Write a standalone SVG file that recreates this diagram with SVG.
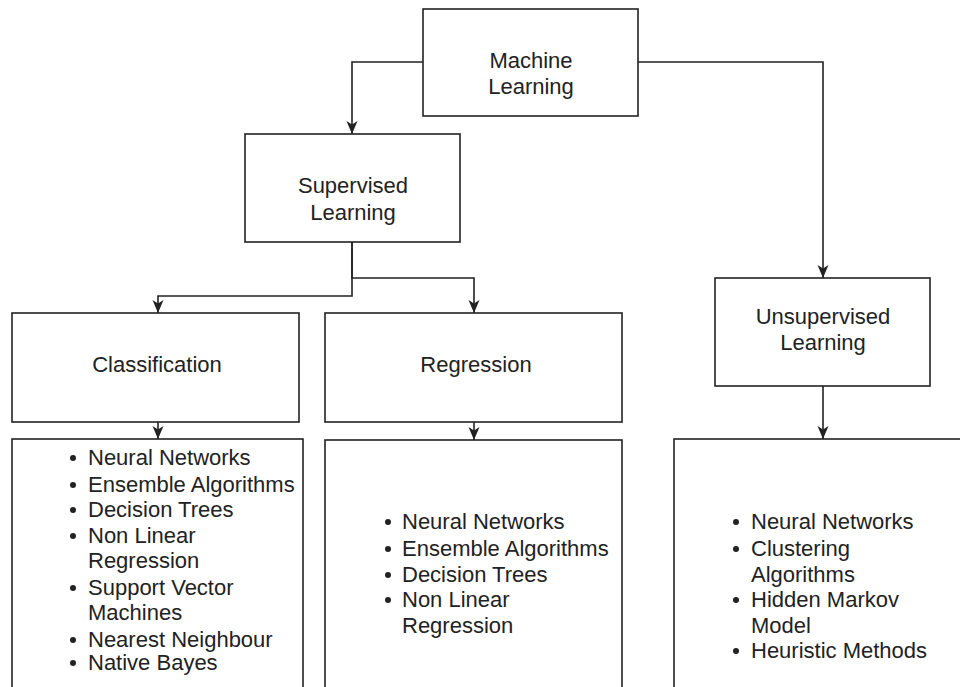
<svg xmlns="http://www.w3.org/2000/svg" width="960" height="687" viewBox="0 0 960 687">
<defs>
<style>
.box{fill:#fff;stroke:#222;stroke-width:1.6}
.lbl{font-family:"Liberation Sans",Arial,sans-serif;font-size:22px;fill:#222;text-anchor:middle}
.li{font-family:"Liberation Sans",Arial,sans-serif;font-size:22px;fill:#222}
.edge{fill:none;stroke:#222;stroke-width:1.6}
.dot{fill:#222}
</style>
<marker id="arr" viewBox="0 0 13 12" refX="13" refY="6" markerWidth="13" markerHeight="12" markerUnits="userSpaceOnUse" orient="auto">
<path d="M0,0.5 L13,6 L0,11.5 L3.5,6 Z" fill="#222"/>
</marker>
</defs>
<rect width="960" height="687" fill="#fff"/>
<g id="edges">
<path class="edge" d="M423,62 H352 V134" marker-end="url(#arr)"/>
<path class="edge" d="M638,62 H823 V278" marker-end="url(#arr)"/>
<path class="edge" d="M352,242 V296 H158 V313" marker-end="url(#arr)"/>
<path class="edge" d="M352,242 V278 H474 V313" marker-end="url(#arr)"/>
<path class="edge" d="M158,422 V439" marker-end="url(#arr)"/>
<path class="edge" d="M474,422 V440" marker-end="url(#arr)"/>
<path class="edge" d="M823,386 V439" marker-end="url(#arr)"/>
</g>
<g id="machine-learning">
<rect class="box" x="423" y="9" width="215" height="107"/>
<text class="lbl" x="531" y="68">Machine</text>
<text class="lbl" x="531" y="94">Learning</text>
</g>
<g id="supervised-learning">
<rect class="box" x="245" y="134" width="215" height="108"/>
<text class="lbl" x="353" y="193">Supervised</text>
<text class="lbl" x="353" y="220">Learning</text>
</g>
<g id="unsupervised-learning">
<rect class="box" x="715" y="278" width="215" height="108"/>
<text class="lbl" x="823" y="324">Unsupervised</text>
<text class="lbl" x="823" y="350">Learning</text>
</g>
<g id="classification">
<rect class="box" x="12" y="313" width="287" height="109"/>
<text class="lbl" x="157" y="372">Classification</text>
</g>
<g id="regression">
<rect class="box" x="325" y="313" width="297" height="109"/>
<text class="lbl" x="476" y="372">Regression</text>
</g>
<g id="classification-list">
<rect class="box" x="12" y="439" width="291" height="270"/>
<circle class="dot" cx="73" cy="458" r="3"/>
<circle class="dot" cx="73" cy="485" r="3"/>
<circle class="dot" cx="73" cy="510" r="3"/>
<circle class="dot" cx="73" cy="536" r="3"/>
<circle class="dot" cx="73" cy="588" r="3"/>
<circle class="dot" cx="73" cy="640" r="3"/>
<circle class="dot" cx="73" cy="663" r="3"/>
<text class="li" x="88" y="465">Neural Networks</text>
<text class="li" x="88" y="492">Ensemble Algorithms</text>
<text class="li" x="88" y="517">Decision Trees</text>
<text class="li" x="88" y="543">Non Linear</text>
<text class="li" x="88" y="568">Regression</text>
<text class="li" x="88" y="595">Support Vector</text>
<text class="li" x="88" y="620">Machines</text>
<text class="li" x="88" y="647">Nearest Neighbour</text>
<text class="li" x="88" y="670">Native Bayes</text>
</g>
<g id="regression-list">
<rect class="box" x="325" y="440" width="297" height="270"/>
<circle class="dot" cx="388" cy="522" r="3"/>
<circle class="dot" cx="388" cy="549" r="3"/>
<circle class="dot" cx="388" cy="575" r="3"/>
<circle class="dot" cx="388" cy="600" r="3"/>
<text class="li" x="402" y="529">Neural Networks</text>
<text class="li" x="402" y="556">Ensemble Algorithms</text>
<text class="li" x="402" y="582">Decision Trees</text>
<text class="li" x="402" y="607">Non Linear</text>
<text class="li" x="402" y="633">Regression</text>
</g>
<g id="unsupervised-list">
<rect class="box" x="674" y="439" width="300" height="270"/>
<circle class="dot" cx="736" cy="522" r="3"/>
<circle class="dot" cx="736" cy="549" r="3"/>
<circle class="dot" cx="736" cy="600" r="3"/>
<circle class="dot" cx="736" cy="651" r="3"/>
<text class="li" x="751" y="529">Neural Networks</text>
<text class="li" x="751" y="556">Clustering</text>
<text class="li" x="751" y="582">Algorithms</text>
<text class="li" x="751" y="607">Hidden Markov</text>
<text class="li" x="751" y="633">Model</text>
<text class="li" x="751" y="658">Heuristic Methods</text>
</g>
</svg>
